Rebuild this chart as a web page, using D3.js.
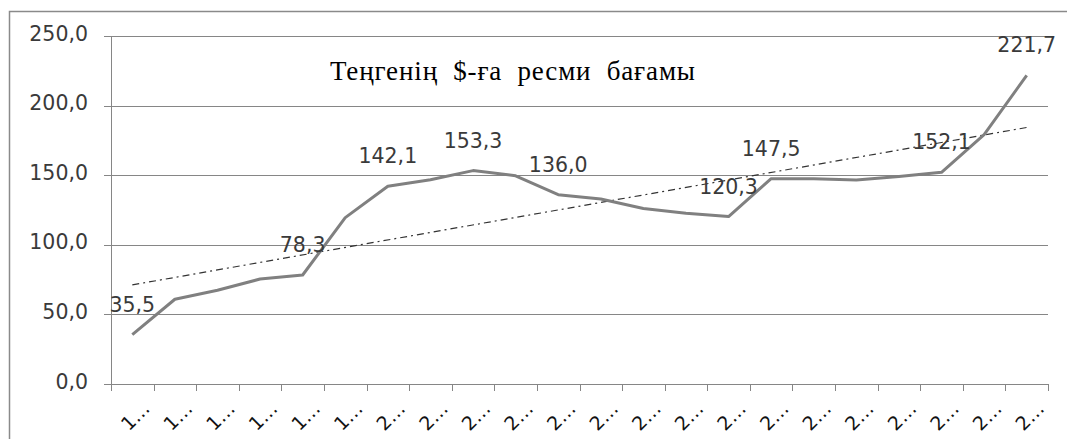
<!DOCTYPE html>
<html>
<head>
<meta charset="utf-8">
<script src="https://cdn.jsdelivr.net/npm/d3@7"></script>
<style>
  html, body { margin: 0; padding: 0; background: #fff; }
  svg { display: block; }
</style>
</head>
<body>
<svg id="chart" width="1067" height="439"></svg>
<script>
const years = [1994,1995,1996,1997,1998,1999,2000,2001,2002,2003,2004,2005,2006,2007,2008,2009,2010,2011,2012,2013,2014,2015];
const rates = [35.5,60.9,67.3,75.4,78.3,119.5,142.1,146.7,153.3,149.6,136.0,132.9,126.1,122.6,120.3,147.5,147.4,146.6,149.1,152.1,179.2,221.7];
const labelledYears = [1994,1998,2000,2002,2004,2008,2009,2013,2015];
const yTicks = [0,50,100,150,200,250];
const title = "Теңгенің  $-ға  ресми  бағамы";

const svg = d3.select("#chart");
const W = 1067, H = 439;
const m = {left: 111, right: 1048, top: 36, bottom: 384};

// outer frame (left + top edges visible)
svg.append("path")
  .attr("d", `M9.5,${H} L9.5,11.5 L${W},11.5`)
  .attr("fill", "none").attr("stroke", "#8a8a8a").attr("stroke-width", 1.5);

const x = d3.scaleBand().domain(years).range([m.left, m.right]).paddingInner(0).paddingOuter(0);
const y = d3.scaleLinear().domain([0, 250]).range([m.bottom, m.top]);
const fmt = v => d3.format(".1f")(v).replace(".", ",");

// gridlines + y axis
const yAxis = d3.axisLeft(y).tickValues(yTicks).tickSize(-(m.right - m.left)).tickSizeOuter(0).tickPadding(23).tickFormat(fmt);
const gy = svg.append("g").attr("transform", `translate(${m.left},0)`).call(yAxis);
gy.selectAll(".tick line").attr("stroke", "#868686").attr("x1", -7).attr("shape-rendering", "crispEdges");
gy.selectAll(".tick text").attr("fill", "#3a3a3a").style("font-family", "'DejaVu Sans', Verdana, sans-serif").style("font-size", "20.5px").attr("dy", "0.2em");
gy.select(".domain").attr("stroke", "#868686").attr("d", `M0.5,${m.top}V${m.bottom}`);

// x axis
const xAxis = d3.axisBottom(x).tickSize(0).tickFormat(d => String(d)[0] + "…");
const gx = svg.append("g").attr("transform", `translate(0,${m.bottom})`).call(xAxis);
gx.select(".domain").attr("stroke", "#868686").attr("d", `M${m.left},0.5H${m.right}`);
gx.selectAll(".tick text")
  .attr("fill", "#111")
  .style("font-family", "'DejaVu Sans', Verdana, sans-serif").style("font-size", "19px")
  .attr("text-anchor", "end")
  .attr("transform", "translate(14,21) rotate(-45)")
  .attr("dy", "0.35em").attr("y", 0).attr("x", 0);
// boundary ticks
const bounds = years.map(d => x(d)).concat([x(years[years.length-1]) + x.bandwidth()]);
svg.append("g").selectAll("line").data(bounds).join("line")
  .attr("x1", d => Math.round(d) + 0.5).attr("x2", d => Math.round(d) + 0.5)
  .attr("y1", m.bottom).attr("y2", m.bottom + 7)
  .attr("stroke", "#868686");

const cx = d => x(d) + x.bandwidth() / 2;

// trend line (least squares fit of the series)
const n = rates.length;
const idx = d3.range(n);
const mx = d3.mean(idx), my = d3.mean(rates);
const slope = d3.sum(idx, i => (i - mx) * (rates[i] - my)) / d3.sum(idx, i => (i - mx) ** 2);
const icpt = my - slope * mx;
svg.append("line")
  .attr("x1", cx(years[0])).attr("y1", y(icpt))
  .attr("x2", cx(years[n-1])).attr("y2", y(icpt + slope * (n - 1)))
  .attr("stroke", "#333").attr("stroke-width", 1.2)
  .attr("stroke-dasharray", "7,4,2,4");

// main line
const data = years.map((yr, i) => ({yr, v: rates[i]}));
svg.append("path").datum(data)
  .attr("d", d3.line().x(d => cx(d.yr)).y(d => y(d.v)))
  .attr("fill", "none").attr("stroke", "#808080").attr("stroke-width", 3).attr("stroke-linejoin", "round");

// data labels
svg.append("g").selectAll("text").data(data.filter(d => labelledYears.includes(d.yr))).join("text")
  .attr("x", d => cx(d.yr)).attr("y", d => y(d.v) - 23)
  .attr("text-anchor", "middle")
  .attr("fill", "#3a3a3a")
  .style("font-family", "'DejaVu Sans', Verdana, sans-serif").style("font-size", "20.5px")
  .text(d => fmt(d.v));

// title
svg.append("text")
  .attr("x", 330).attr("y", 80)
  .attr("fill", "#000")
  .style("font-family", "'Liberation Serif', 'Times New Roman', serif").style("font-size", "27px")
  .style("white-space", "pre")
  .attr("xml:space", "preserve")
  .attr("textLength", 365).attr("lengthAdjust", "spacing")
  .text(title);
</script>
</body>
</html>
